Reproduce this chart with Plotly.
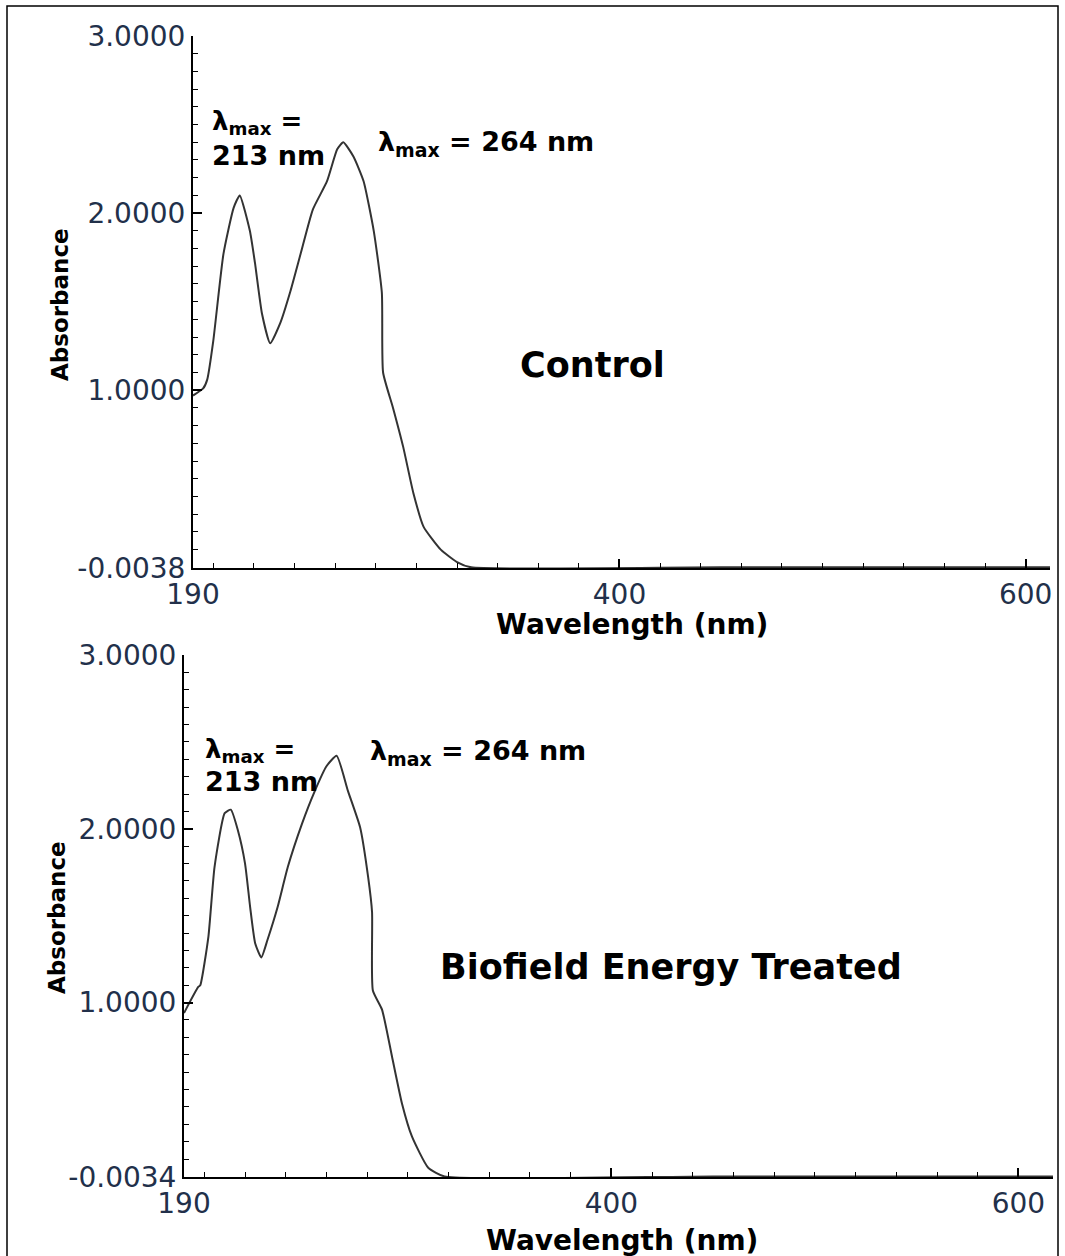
import plotly.graph_objects as go

# ---------------- data ----------------
wl_control = [190, 195, 197, 200, 205, 210, 213, 218, 220.5, 224, 228, 233, 238, 243, 249, 256,
              261, 264, 269, 274, 279, 283, 283.6, 288.5, 293.5, 298.5, 303.5, 312, 320, 327, 450, 612]
abs_control = [0.97, 1.01, 1.06, 1.28, 1.77, 2.03, 2.10, 1.90, 1.72, 1.43, 1.265, 1.38, 1.56, 1.77, 2.02, 2.18,
               2.36, 2.40, 2.32, 2.18, 1.90, 1.55, 1.10, 0.90, 0.68, 0.42, 0.23, 0.10, 0.03, 0.0, 0.0, 0.0]

wl_treated = [190, 197, 198, 202, 205, 210, 213, 216.5, 220, 222.5, 225, 228, 231, 236, 241, 248,
              254, 260, 265, 270.5, 276.5, 280.5, 282.4, 282.8, 287.3, 292.2, 297.1, 302, 310, 318, 450, 617]
abs_treated = [0.94, 1.09, 1.10, 1.38, 1.78, 2.09, 2.11, 1.99, 1.80, 1.55, 1.34, 1.26, 1.36, 1.55, 1.78, 2.03,
               2.21, 2.36, 2.42, 2.22, 2.01, 1.72, 1.52, 1.07, 0.96, 0.69, 0.42, 0.23, 0.05, 0.0, 0.0, 0.0]

x_tickvals = [190, 400, 600]
x_ticktext = ["190", "400", "600"]
y_tickvals_control = [-0.0038, 1.0, 2.0, 3.0]
y_ticktext_control = ["-0.0038", "1.0000", "2.0000", "3.0000"]
y_tickvals_treated = [-0.0034, 1.0, 2.0, 3.0]
y_ticktext_treated = ["-0.0034", "1.0000", "2.0000", "3.0000"]
x_range_control = [190, 612]
x_range_treated = [190, 617]
y_range_control = [-0.0038, 3.0]
y_range_treated = [-0.0034, 3.0]

label_control = "Control"
label_treated = "Biofield Energy Treated"
peak1_label = ["λ<sub>max</sub> =", "213 nm"]
peak2_label = "λ<sub>max</sub> = 264 nm"
x_title = "Wavelength (nm)"
y_title = "Absorbance"

# ---------------- figure ----------------
W, H = 1065, 1256
FONT = "DejaVu Sans"
TICKCOL = "#22304a"
LINECOL = "#333333"


def px(x):
    return x / W


def py(y):
    return 1 - y / H


fig = go.Figure()
fig.add_trace(go.Scatter(x=wl_control, y=abs_control, mode="lines", xaxis="x", yaxis="y",
                         line=dict(color=LINECOL, width=2, shape="spline", smoothing=0.5),
                         showlegend=False, hoverinfo="skip"))
fig.add_trace(go.Scatter(x=wl_treated, y=abs_treated, mode="lines", xaxis="x2", yaxis="y2",
                         line=dict(color=LINECOL, width=2, shape="spline", smoothing=0.5),
                         showlegend=False, hoverinfo="skip"))


def xaxis(domain, anchor, rng):
    return dict(domain=domain, anchor=anchor, range=rng, showgrid=False, zeroline=False,
                automargin=False, fixedrange=True,
                showline=True, linecolor="black", linewidth=2,
                tickvals=x_tickvals, ticktext=x_ticktext, ticks="inside", ticklen=9,
                tickwidth=1.5, tickcolor="black",
                tickfont=dict(family=FONT, size=28, color=TICKCOL),
                minor=dict(ticks="inside", ticklen=5, tickwidth=1.2, tickcolor="black",
                           dtick=20, tick0=0, showgrid=False))


def yaxis(domain, anchor, rng, tv, tt):
    return dict(domain=domain, anchor=anchor, range=rng, showgrid=False, zeroline=False,
                automargin=False, fixedrange=True,
                showline=True, linecolor="black", linewidth=2,
                tickvals=tv, ticktext=tt, ticks="inside", ticklen=9,
                tickwidth=1.5, tickcolor="black",
                tickfont=dict(family=FONT, size=28, color=TICKCOL),
                minor=dict(ticks="inside", ticklen=5, tickwidth=1.2, tickcolor="black",
                           dtick=0.1, tick0=0, showgrid=False))


annotations = []


def ann(text, x, y, size, xanchor="left", yanchor="middle", angle=0, bold=True):
    annotations.append(dict(text=f"<b>{text}</b>" if bold else text, x=px(x), y=py(y),
                            xref="paper", yref="paper", showarrow=False,
                            xanchor=xanchor, yanchor=yanchor, textangle=angle,
                            font=dict(family=FONT, size=size, color="black")))


# top panel
ann(peak1_label[0], 210, 123, 26)
ann(peak1_label[1], 210, 156, 27)
ann(peak2_label, 376, 144, 27)
ann(label_control, 592, 365, 35, xanchor="center")
ann(x_title, 632, 624, 28, xanchor="center")
ann(y_title, 60, 305, 23, xanchor="center", angle=-90)
# bottom panel
ann(peak1_label[0], 203, 750, 26)
ann(peak1_label[1], 203, 781, 27)
ann(peak2_label, 368, 752, 27)
ann(label_treated, 671, 967, 35, xanchor="center")
ann(x_title, 622, 1240, 28, xanchor="center")
ann(y_title, 57, 918, 23, xanchor="center", angle=-90)

fig.update_layout(
    width=W, height=H,
    margin=dict(l=0, r=0, t=0, b=0, pad=0, autoexpand=False),
    paper_bgcolor="white", plot_bgcolor="white",
    xaxis=xaxis([px(193), px(1050)], "y", x_range_control),
    yaxis=yaxis([py(568), py(36)], "x", y_range_control, y_tickvals_control, y_ticktext_control),
    xaxis2=xaxis([px(184), px(1053)], "y2", x_range_treated),
    yaxis2=yaxis([py(1177), py(655)], "x2", y_range_treated, y_tickvals_treated, y_ticktext_treated),
    annotations=annotations,
    shapes=[dict(type="rect", xref="paper", yref="paper", x0=px(7), x1=px(1058), y0=py(1262), y1=py(6),
                 line=dict(color="black", width=1.5), fillcolor="rgba(0,0,0,0)")],
)

fig.write_html("out.html")
